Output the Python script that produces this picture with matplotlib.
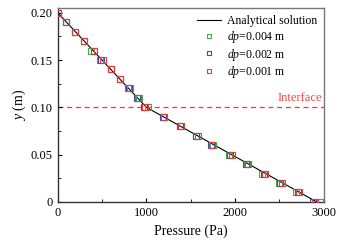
import matplotlib
matplotlib.use("Agg")
import matplotlib.pyplot as plt
import numpy as np

plt.rcParams['font.family'] = ['Liberation Serif', 'DejaVu Serif']
plt.rcParams['mathtext.fontset'] = 'custom'
plt.rcParams['mathtext.rm'] = 'Liberation Serif'
plt.rcParams['mathtext.it'] = 'Liberation Serif:italic'

# Analytical solution (piecewise linear)
ana_p = [0, 1000, 2920]
ana_y = [0.20, 0.10, 0.00]

# Numerical results at y = 0.20 ... 0.00 (step 0.01)
y_pts = [0.20, 0.19, 0.18, 0.17, 0.16, 0.15, 0.14, 0.13, 0.12, 0.11, 0.10,
         0.09, 0.08, 0.07, 0.06, 0.05, 0.04, 0.03, 0.02, 0.01, 0.00]
p_dp004 = [0, 100, 200, 295, 375, 475, 600, 700, 815, 915, 1020,
           1190, 1385, 1555, 1750, 1930, 2130, 2305, 2495, 2690, 2960]
p_dp002 = [0, 100, 200, 300, 410, 490, 600, 700, 800, 890, 975,
           1190, 1380, 1565, 1725, 1945, 2125, 2320, 2505, 2705, 2880]
p_dp001 = [0, 100, 200, 300, 405, 510, 600, 700, 790, 905, 990,
           1195, 1395, 1585, 1740, 1970, 2140, 2340, 2530, 2725, 2905]

series_labels = ['$dp$=0.004\u2009m', '$dp$=0.002\u2009m', '$dp$=0.001\u2009m']
series_colors = ['#3cb043', '#4848a8', '#e83a3a']

fig = plt.figure(figsize=(3.49, 2.49), dpi=100)
ax = fig.add_axes([0.165, 0.189, 0.763, 0.779])

ax.plot(ana_p, ana_y, color='black', lw=0.8, label='Analytical solution', zorder=2)
for p, lab, c in zip([p_dp004, p_dp002, p_dp001], series_labels, series_colors):
    ax.plot(p, y_pts, ls='none', marker='s', ms=4.2, mfc='none', mec=c, mew=0.8,
            label=lab, zorder=3)

ax.axhline(0.10, color='#ff3030', ls=(0, (4, 3)), lw=0.9, zorder=1)
ax.text(2985, 0.104, 'Interface', color='#ff4444', fontsize=9, ha='right', va='bottom')

ax.set_xlim(0, 3000)
ax.set_ylim(0, 0.205)
ax.set_xticks([0, 1000, 2000, 3000])
ax.set_xticks([500, 1500, 2500], minor=True)
ax.set_yticks([0, 0.05, 0.10, 0.15, 0.20])
ax.set_yticklabels(['0', '0.05', '0.10', '0.15', '0.20'])
ax.set_yticks([0.025, 0.075, 0.125, 0.175], minor=True)
ax.tick_params(which='both', direction='in', labelsize=9, top=False, right=False)
ax.tick_params(which='major', length=3, width=0.8)
ax.tick_params(which='minor', length=2, width=0.6)

for s in ['left', 'bottom']:
    ax.spines[s].set_color('#333333')
    ax.spines[s].set_linewidth(1.0)
for s in ['top', 'right']:
    ax.spines[s].set_color('#777777')
    ax.spines[s].set_linewidth(1.0)

ax.set_xlabel('Pressure (Pa)', fontsize=10, labelpad=4)
ax.set_ylabel('$y$ (m)', fontsize=10, labelpad=2)

leg = ax.legend(loc='upper right', frameon=False, fontsize=8.5, handlelength=2.0,
                handletextpad=0.5, labelspacing=0.15, borderaxespad=0.2,
                markerscale=0.75)

fig.savefig('out.png', dpi=100)
